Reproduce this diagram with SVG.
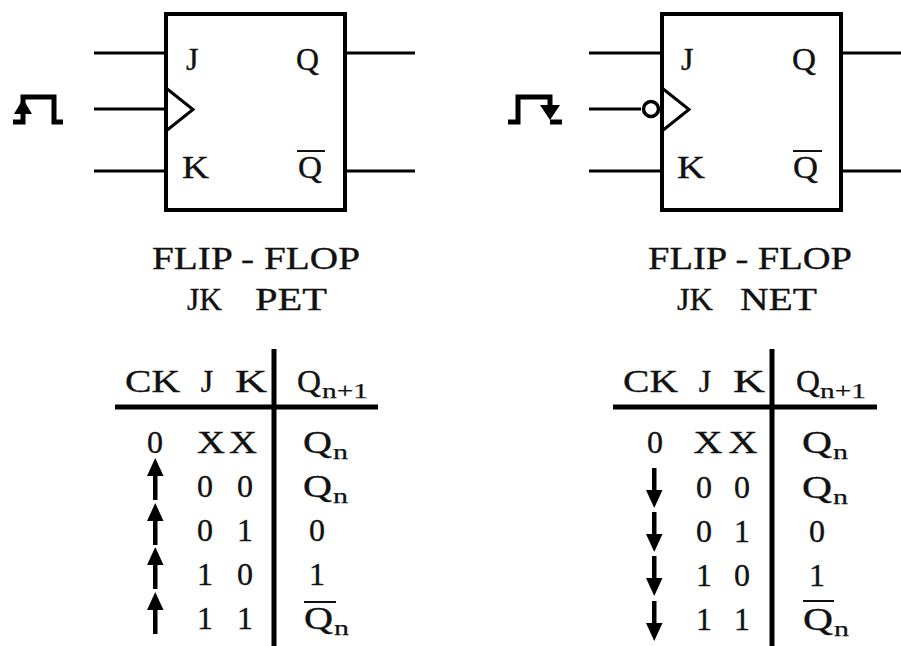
<svg xmlns="http://www.w3.org/2000/svg" width="901" height="646" viewBox="0 0 901 646">
<style>
.t{font-family:"Liberation Serif","Times New Roman",serif;font-size:32px;fill:#111;stroke:#111;stroke-width:0.35}
.b{font-family:"Liberation Serif","Times New Roman",serif;font-size:32px;fill:#111;stroke:#111;stroke-width:0.35}
.s{font-family:"Liberation Serif","Times New Roman",serif;font-size:22px;fill:#111;stroke:#111;stroke-width:0.25}
.m{text-anchor:middle}
.w{stroke:#000;stroke-width:3;fill:none}
.box{stroke:#000;stroke-width:4;fill:#fff}
.ob{stroke:#111;stroke-width:2}
.tl{stroke:#000;stroke-width:5}
.pulse{stroke:#000;stroke-width:5;fill:none;stroke-linejoin:miter}
</style>
<defs>
<g id="up"><rect x="153" y="8" width="4.5" height="34" fill="#000"/><polygon points="147,18 155.25,0 163.5,18" fill="#000"/></g>
<g id="down"><rect x="652" y="0" width="4.5" height="30" fill="#000"/><polygon points="646,22 662.5,22 654.25,40" fill="#000"/></g>
</defs>
<rect width="901" height="646" fill="#fff"/>

<g id="connectors">
<line class="w" x1="94" y1="53" x2="166" y2="53"/>
<line class="w" x1="94" y1="109" x2="166" y2="109"/>
<line class="w" x1="94" y1="171" x2="166" y2="171"/>
<line class="w" x1="345" y1="53" x2="415" y2="53"/>
<line class="w" x1="345" y1="171" x2="415" y2="171"/>
<line class="w" x1="589" y1="53" x2="662" y2="53"/>
<line class="w" x1="589" y1="109" x2="641" y2="109"/>
<line class="w" x1="589" y1="171" x2="662" y2="171"/>
<line class="w" x1="841" y1="53" x2="901" y2="53"/>
<line class="w" x1="841" y1="171" x2="901" y2="171"/>
</g>

<g id="ff-pet">
<rect class="box" x="166" y="14" width="179" height="196"/>
<polyline class="w" stroke-width="4" points="166,88 193,109.5 166,131"/>
<text class="b" x="186" y="70">J</text>
<text class="b" x="296" y="70" textLength="23" lengthAdjust="spacingAndGlyphs">Q</text>
<text class="b" x="182" y="178" textLength="27" lengthAdjust="spacingAndGlyphs">K</text>
<text class="b" x="298" y="178" textLength="24" lengthAdjust="spacingAndGlyphs">Q</text>
<line class="ob" x1="297" y1="151" x2="325" y2="151"/>
</g>

<g id="clock-rise">
<path class="pulse" d="M13,122 H23 V97 H54 V122 H63"/>
<polygon points="14,114 23,99 32,114" fill="#000"/>
</g>

<g id="ff-net">
<rect class="box" x="662" y="14" width="179" height="196"/>
<polyline class="w" stroke-width="4" points="662,88 689,109.5 662,131"/>
<circle cx="651" cy="109" r="7.5" fill="#fff" stroke="#000" stroke-width="3.5"/>
<text class="b" x="681" y="70">J</text>
<text class="b" x="792" y="70" textLength="24" lengthAdjust="spacingAndGlyphs">Q</text>
<text class="b" x="677" y="178" textLength="28" lengthAdjust="spacingAndGlyphs">K</text>
<text class="b" x="793" y="178" textLength="25" lengthAdjust="spacingAndGlyphs">Q</text>
<line class="ob" x1="793" y1="151" x2="822" y2="151"/>
</g>

<g id="clock-fall">
<path class="pulse" d="M508,122 H518 V97 H550 V112"/>
<path class="pulse" d="M550,122 H562"/>
<polygon points="540,105 560,105 550,120" fill="#000"/>
</g>

<g id="title-pet">
<text class="t" x="152" y="269" textLength="208" lengthAdjust="spacingAndGlyphs">FLIP - FLOP</text>
<text class="t" x="187" y="310" textLength="35" lengthAdjust="spacingAndGlyphs">JK</text>
<text class="t" x="255" y="310" textLength="72" lengthAdjust="spacingAndGlyphs">PET</text>
</g>

<g id="title-net">
<text class="t" x="648" y="269" textLength="204" lengthAdjust="spacingAndGlyphs">FLIP - FLOP</text>
<text class="t" x="677" y="310" textLength="36" lengthAdjust="spacingAndGlyphs">JK</text>
<text class="t" x="740" y="310" textLength="77" lengthAdjust="spacingAndGlyphs">NET</text>
</g>

<g id="table-pet">
<line class="tl" x1="274" y1="349" x2="274" y2="646"/>
<line class="tl" x1="115" y1="407" x2="378" y2="407"/>
<text class="t" x="125" y="392" textLength="55" lengthAdjust="spacingAndGlyphs">CK</text>
<text class="t m" x="207" y="392">J</text>
<text class="t" x="235" y="392" textLength="32" lengthAdjust="spacingAndGlyphs">K</text>
<text class="t" x="297" y="392" textLength="24" lengthAdjust="spacingAndGlyphs">Q</text>
<text class="s" x="322" y="398" textLength="46" lengthAdjust="spacingAndGlyphs">n+1</text>

<text class="t m" x="155" y="453">0</text>
<text class="t m" x="211" y="453" textLength="28" lengthAdjust="spacingAndGlyphs">X</text>
<text class="t m" x="243" y="453" textLength="28" lengthAdjust="spacingAndGlyphs">X</text>
<text class="t" x="303" y="453" textLength="29" lengthAdjust="spacingAndGlyphs">Q</text>
<text class="s" x="333" y="459" textLength="15" lengthAdjust="spacingAndGlyphs">n</text>

<text class="t m" x="205" y="497">0</text>
<text class="t m" x="245" y="497">0</text>
<text class="t" x="303" y="497" textLength="29" lengthAdjust="spacingAndGlyphs">Q</text>
<text class="s" x="333" y="503" textLength="15" lengthAdjust="spacingAndGlyphs">n</text>

<text class="t m" x="205" y="541">0</text>
<text class="t m" x="245" y="541">1</text>
<text class="t m" x="317" y="541">0</text>

<text class="t m" x="205" y="585">1</text>
<text class="t m" x="245" y="585">0</text>
<text class="t m" x="317" y="585">1</text>

<text class="t m" x="205" y="629">1</text>
<text class="t m" x="245" y="629">1</text>
<text class="t" x="304" y="629" textLength="29" lengthAdjust="spacingAndGlyphs">Q</text>
<text class="s" x="334" y="635" textLength="15" lengthAdjust="spacingAndGlyphs">n</text>
<line class="ob" x1="304" y1="602" x2="336" y2="602"/>

<use href="#up" y="458"/>
<use href="#up" y="503"/>
<use href="#up" y="547"/>
<use href="#up" y="592"/>
</g>

<g id="table-net">
<line class="tl" x1="772" y1="349" x2="772" y2="646"/>
<line class="tl" x1="613" y1="407" x2="877" y2="407"/>
<text class="t" x="623" y="392" textLength="55" lengthAdjust="spacingAndGlyphs">CK</text>
<text class="t m" x="705" y="392">J</text>
<text class="t" x="733" y="392" textLength="32" lengthAdjust="spacingAndGlyphs">K</text>
<text class="t" x="796" y="392" textLength="24" lengthAdjust="spacingAndGlyphs">Q</text>
<text class="s" x="820" y="398" textLength="46" lengthAdjust="spacingAndGlyphs">n+1</text>

<text class="t m" x="655" y="453">0</text>
<text class="t m" x="708" y="453" textLength="29" lengthAdjust="spacingAndGlyphs">X</text>
<text class="t m" x="743" y="453" textLength="29" lengthAdjust="spacingAndGlyphs">X</text>
<text class="t" x="802" y="453" textLength="30" lengthAdjust="spacingAndGlyphs">Q</text>
<text class="s" x="833" y="459" textLength="15" lengthAdjust="spacingAndGlyphs">n</text>

<text class="t m" x="704" y="498">0</text>
<text class="t m" x="742" y="498">0</text>
<text class="t" x="802" y="498" textLength="30" lengthAdjust="spacingAndGlyphs">Q</text>
<text class="s" x="833" y="504" textLength="15" lengthAdjust="spacingAndGlyphs">n</text>

<text class="t m" x="704" y="542">0</text>
<text class="t m" x="742" y="542">1</text>
<text class="t m" x="817" y="542">0</text>

<text class="t m" x="704" y="586">1</text>
<text class="t m" x="742" y="586">0</text>
<text class="t m" x="817" y="586">1</text>

<text class="t m" x="704" y="630">1</text>
<text class="t m" x="742" y="630">1</text>
<text class="t" x="803" y="630" textLength="30" lengthAdjust="spacingAndGlyphs">Q</text>
<text class="s" x="834" y="636" textLength="15" lengthAdjust="spacingAndGlyphs">n</text>
<line class="ob" x1="803" y1="601" x2="834" y2="601"/>

<use href="#down" y="468"/>
<use href="#down" y="512"/>
<use href="#down" y="556"/>
<use href="#down" y="601"/>
</g>
</svg>
